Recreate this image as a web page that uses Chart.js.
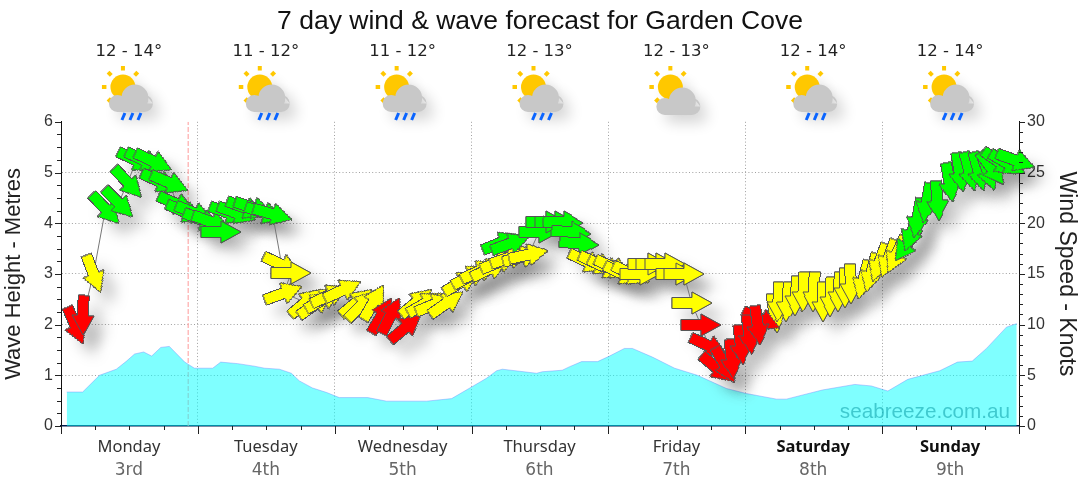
<!DOCTYPE html>
<html>
<head>
<meta charset="utf-8">
<title>7 day wind & wave forecast</title>
<script src="https://cdn.jsdelivr.net/npm/chart.js@4"></script>
<style>
  html, body { margin: 0; padding: 0; background: #fff; }
  canvas { display: block; }
</style>
</head>
<body>
<canvas id="chart" width="1080" height="490"></canvas>
<script>
const dayNames = ["Monday", "Tuesday", "Wednesday", "Thursday", "Friday", "Saturday", "Sunday"];
const dayDates = ["3rd", "4th", "5th", "6th", "7th", "8th", "9th"];
const dayHours = [12, 36, 60, 84, 108, 132, 156];
const tempRanges = ["12 - 14°", "11 - 12°", "11 - 12°", "12 - 13°", "12 - 13°", "12 - 14°", "12 - 14°"];
const rainyDays = [true, true, true, true, false, true, true];
const weekendDays = ["Saturday", "Sunday"];
const nowHour = 22.3;

// wave height, metres on the left axis
const waveHours = [1, 3.8, 6.75, 9.7, 11.5, 12.9, 14.5, 15.9, 17.5, 19, 21.7, 23.4, 26.6, 28, 31, 33.9, 35.7, 38.3, 40.4, 41.8, 44.1, 46.6, 48.8, 53.8, 57.1, 64.1, 68.5, 72, 74.6, 76.4, 77.4, 83.4, 84.4, 87.9, 89.2, 91.3, 94.1, 96.2, 98.8, 100.2, 103.7, 107.6, 111.6, 116.7, 120.2, 125.5, 127.2, 133.5, 139.2, 142.1, 145, 148.5, 154.1, 157.2, 159.8, 162.3, 165.8, 167.6];
const waveMetres = [0.67, 0.67, 1, 1.12, 1.28, 1.42, 1.46, 1.38, 1.55, 1.57, 1.26, 1.14, 1.14, 1.26, 1.23, 1.18, 1.14, 1.12, 1.04, 0.89, 0.75, 0.66, 0.56, 0.56, 0.49, 0.49, 0.54, 0.77, 0.94, 1.09, 1.12, 1.04, 1.07, 1.1, 1.17, 1.27, 1.27, 1.38, 1.53, 1.53, 1.36, 1.14, 1, 0.74, 0.64, 0.53, 0.53, 0.71, 0.82, 0.79, 0.69, 0.92, 1.09, 1.26, 1.28, 1.53, 1.95, 2.02];

// wind arrows, knots on the right axis, bearing the arrow points at
const arrowHours = [2.5, 3.9, 5.7, 7.8, 10.1, 11.7, 13.2, 14.6, 16.2, 17.3, 19, 20.3, 21.8, 23.4, 24.8, 26.4, 28.1, 29.4, 30.8, 32.4, 33.8, 35.7, 37.1, 38.7, 40.4, 39, 42.9, 44.6, 46, 47.1, 49.4, 51.8, 52.7, 54.8, 56.2, 57.8, 60.4, 62.3, 63.9, 65.5, 67.6, 70.2, 71.8, 73.4, 75.2, 76.9, 78.7, 77.2, 78.8, 80.9, 82, 83.8, 85.1, 86.6, 88.1, 89.5, 90.9, 92.3, 94.1, 95.7, 96.9, 98.5, 100, 101.5, 103, 104.4, 106, 107.8, 109.2, 110.6, 112.2, 113.6, 115, 116.4, 125.1, 122.8, 117.6, 119.2, 120.7, 122.2, 125.8, 127.4, 128.9, 130.2, 132, 133.6, 135, 136.4, 137.4, 138.5, 140.7, 142.1, 143.5, 145.1, 146.5, 148.3, 149.2, 150.2, 151.8, 153.7, 155.8, 157.6, 159.3, 160.9, 162.5, 163.2, 164.6, 166, 167.4];
const arrowKnots = [9.9, 10.9, 15, 21.4, 22, 24, 26.2, 26.2, 26.1, 24.1, 24, 21.9, 21.1, 21, 20.3, 20.1, 19.1, 21, 21, 21.5, 21.5, 21, 20.9, 15.9, 15.1, 13.1, 12.2, 12, 12.5, 12.9, 13.4, 12.2, 11.9, 12.2, 10.9, 10.9, 9.7, 12.2, 12.1, 12, 12.1, 14.2, 14.8, 15.3, 15.5, 16.2, 16.6, 18.1, 18, 16.7, 16.9, 19.1, 20.1, 20.1, 20.1, 19.1, 18, 16.2, 16, 15.6, 15.6, 15, 15, 15, 16, 16, 16, 15, 15, 12.1, 10, 7.9, 5.7, 6, 11.1, 10.5, 6.6, 8, 9, 9.9, 12.2, 12.2, 12.8, 13.2, 13.2, 12.2, 12.7, 13.2, 13.6, 14, 14.4, 15.1, 16.1, 16.5, 16.9, 17.9, 19.1, 20.5, 22, 22.2, 24, 25, 25.1, 25.1, 25.1, 25.4, 26, 25.9, 26.2];
const arrowBearings = [157, 181, 159, 137, 135, 137, 115, 115, 115, 115, 113, 113, 113, 112, 112, 110, 90, 110, 110, 110, 108, 108, 106, 115, 90, 70, 50, 55, 60, 65, 65, 50, 45, 30, 30, 27, 50, 50, 60, 68, 55, 60, 62, 65, 65, 68, 72, 68, 70, 75, 78, 90, 90, 90, 92, 95, 95, 115, 115, 115, 115, 115, 115, 90, 90, 90, 90, 90, 90, 90, 90, 115, 130, 151, 172, 115, 174, 173, 172, 172, 183, 184, 183, 183, 183, 181, 182, 183, 180, 178, 195, 195, 200, 200, 205, 215, 200, 190, 190, 175, 170, 170, 165, 165, 160, 143, 125, 120, 110];

const FONT = '"Liberation Sans", Arial, sans-serif';
const DAY_FONT = '"Noto Sans", sans-serif';
const LABEL_FONT = '"DejaVu Sans", sans-serif';

function makeArrow(fill) {
  const c = document.createElement("canvas");
  c.width = 28;
  c.height = 46;
  const g = c.getContext("2d");
  g.translate(14, 23);
  g.beginPath();
  g.moveTo(0, -20);
  g.lineTo(11, 0);
  g.lineTo(5.5, 0);
  g.lineTo(5.5, 20);
  g.lineTo(-5.5, 20);
  g.lineTo(-5.5, 0);
  g.lineTo(-11, 0);
  g.closePath();
  g.fillStyle = fill;
  g.fill();
  g.lineWidth = 1;
  g.strokeStyle = "#555";
  g.stroke();
  return c;
}

const ARROWS = { red: makeArrow("#ff0000"), yellow: makeArrow("#ffff00"), green: makeArrow("#00ff00") };

// wind strength bands decide the arrow colour
function arrowFor(knots) {
  if (knots < 11) return ARROWS.red;
  if (knots < 17) return ARROWS.yellow;
  return ARROWS.green;
}

function drawIcon(g, cx, rainy) {
  const top = rainy ? 0 : 3;
  g.save();
  g.shadowColor = "rgba(0,0,0,0.16)";
  g.shadowBlur = 14;
  g.shadowOffsetX = 8;
  g.shadowOffsetY = 8;
  // sun and rays
  g.fillStyle = "#ffc800";
  g.beginPath();
  g.arc(cx - 6.5, 87, 12.5, 0, Math.PI * 2);
  g.fill();
  g.shadowColor = "transparent";
  for (let a = 0; a < 360; a += 45) {
    if (a === 135 || a === 90) continue;
    g.save();
    g.translate(cx - 6.5, 87);
    g.rotate(((a - 90) * Math.PI) / 180);
    g.fillRect(16.5, -2, 4.5, 4);
    g.restore();
  }
  g.shadowColor = "rgba(0,0,0,0.16)";
  // cloud
  g.fillStyle = "#c8c8c8";
  g.beginPath();
  g.arc(cx + 5.5, 98 + top, 13.5, 0, Math.PI * 2);
  g.arc(cx - 12, 103.5 + top, 8.5, 0, Math.PI * 2);
  g.arc(cx + 15, 103.5 + top, 8.5, 0, Math.PI * 2);
  g.rect(cx - 12, 98 + top, 27, 14);
  g.fill();
  g.restore();
  if (!rainy) return;
  g.strokeStyle = "#0a64ff";
  g.lineWidth = 3;
  for (const dx of [-6, 2, 10]) {
    g.beginPath();
    g.moveTo(cx + dx + 1.5, 113);
    g.lineTo(cx + dx - 1.5, 120);
    g.stroke();
  }
}

// arrow shadows sit on one layer under all the arrows
const shadowLayer = {
  id: "shadowLayer",
  beforeDatasetsDraw(chart) {
    chart.ctx.imageSmoothingEnabled = false;
  },
  afterDatasetsDraw(chart) {
    chart.ctx.imageSmoothingEnabled = true;
  },
  beforeDatasetDraw(chart, args) {
    if (args.meta.label !== "shadow") return;
    const g = chart.ctx;
    g.save();
    g.shadowColor = "rgba(0,0,0,0.2)";
    g.shadowBlur = 14;
    g.shadowOffsetX = 12;
    g.shadowOffsetY = 12;
  },
  afterDatasetDraw(chart, args) {
    if (args.meta.label === "shadow") chart.ctx.restore();
  },
};

const tickMarks = {
  id: "tickMarks",
  afterDraw(chart) {
    const g = chart.ctx;
    const { x, y, y1 } = chart.scales;
    g.save();
    g.lineWidth = 1;
    g.strokeStyle = "#222";
    y.ticks.forEach((t) => {
      const py = Math.round(y.getPixelForValue(t.value)) + 0.5;
      const len = t.value % 1 === 0 ? 6 : 4;
      g.beginPath();
      g.moveTo(y.right, py);
      g.lineTo(y.right - len, py);
      g.stroke();
    });
    y1.ticks.forEach((t) => {
      const py = Math.round(y1.getPixelForValue(t.value)) + 0.5;
      const len = t.value % 5 === 0 ? 6 : 4;
      g.beginPath();
      g.moveTo(y1.left, py);
      g.lineTo(y1.left + len, py);
      g.stroke();
    });
    x.ticks.forEach((t) => {
      const px = Math.round(x.getPixelForValue(t.value)) + 0.5;
      const len = t.value % 24 === 0 ? 8 : 4;
      g.beginPath();
      g.moveTo(px, x.top);
      g.lineTo(px, x.top + len);
      g.stroke();
    });
    g.restore();
  },
};

const forecastText = {
  id: "forecastText",
  afterDraw(chart) {
    const g = chart.ctx;
    const { x } = chart.scales;
    g.save();
    g.textAlign = "center";
    g.textBaseline = "alphabetic";
    dayHours.forEach((h, i) => {
      const px = x.getPixelForValue(h);
      g.fillStyle = "#222";
      g.font = `16.5px ${LABEL_FONT}`;
      g.fillText(tempRanges[i], px - 0.5, 56);
      drawIcon(g, px, rainyDays[i]);
      const weekend = weekendDays.includes(dayNames[i]);
      g.fillStyle = weekend ? "#111" : "#333";
      g.font = `${weekend ? "bold " : ""}16.5px ${DAY_FONT}`;
      g.fillText(dayNames[i], px - 0.5, 452);
      g.fillStyle = "#666";
      g.font = `17px ${LABEL_FONT}`;
      g.fillText(dayDates[i], px - 0.5, 475);
    });
    g.textAlign = "right";
    g.fillStyle = "rgba(0,150,160,0.5)";
    g.font = `20.7px ${FONT}`;
    g.fillText("seabreeze.com.au", 1010, 418);
    g.restore();
  },
};

const toPoints = (xs, ys) => xs.map((v, i) => ({ x: v, y: ys[i] }));
const arrowPoints = toPoints(arrowHours, arrowKnots);

new Chart(document.getElementById("chart"), {
  type: "scatter",
  data: {
    datasets: [
      {
        label: "now",
        data: [{ x: nowHour, y: 0 }, { x: nowHour, y: 6 }],
        yAxisID: "y",
        showLine: true,
        order: 5,
        pointRadius: 0,
        borderColor: "#ff9a9a",
        borderWidth: 1,
        borderDash: [5, 2],
      },
      {
        label: "Wave Height",
        data: toPoints(waveHours, waveMetres),
        yAxisID: "y",
        showLine: true,
        order: 4,
        fill: "origin",
        pointRadius: 0,
        backgroundColor: "rgba(0,255,255,0.5)",
        borderColor: "rgba(110,130,255,0.4)",
        borderWidth: 1,
      },
      {
        label: "shadow",
        data: arrowPoints,
        yAxisID: "y1",
        showLine: false,
        order: 3,
        clip: false,
        pointRadius: 20,
        pointStyle: (c) => arrowFor(arrowKnots[c.dataIndex]),
        rotation: (c) => arrowBearings[c.dataIndex],
      },
      {
        label: "Wind Speed",
        data: arrowPoints,
        yAxisID: "y1",
        showLine: true,
        order: 2,
        clip: false,
        borderColor: "#777",
        borderWidth: 1,
        pointRadius: 20,
        pointStyle: (c) => arrowFor(arrowKnots[c.dataIndex]),
        rotation: (c) => arrowBearings[c.dataIndex],
      },
    ],
  },
  options: {
    responsive: false,
    animation: false,
    devicePixelRatio: 1,
    events: [],
    plugins: {
      legend: { display: false },
      tooltip: { enabled: false },
      title: {
        display: true,
        text: "7 day wind & wave forecast for Garden Cove",
        color: "#111",
        font: { family: FONT, size: 26.5, weight: "normal" },
        padding: { top: 6, bottom: 84 },
      },
    },
    scales: {
      x: {
        type: "linear",
        min: 0,
        max: 168,
        ticks: { stepSize: 6, display: false, autoSkip: false },
        afterFit: (s) => { s.height = 64; },
        grid: {
          drawTicks: false,
          color: (c) => (c.tick.value % 24 === 0 && c.tick.value > 0 && c.tick.value < 168 ? "#a0a0a0" : "transparent"),
        },
        border: { color: "#001a4d", width: 1.5, dash: [1, 2.3] },
      },
      y: {
        position: "left",
        min: 0,
        max: 6,
        afterFit: (s) => { s.width = 61; },
        ticks: {
          stepSize: 0.25,
          autoSkip: false,
          padding: 8,
          color: "#333",
          font: { family: FONT, size: 16 },
          callback: (v) => (v % 1 === 0 ? String(v) : ""),
        },
        title: { display: true, text: "Wave Height - Metres", color: "#222", font: { family: FONT, size: 22 }, padding: { top: 1, bottom: 0 } },
        grid: {
          drawTicks: false,
          color: (c) => (c.tick.value % 1 === 0 && c.tick.value > 0 && c.tick.value < 6 ? "#a0a0a0" : "transparent"),
        },
        border: { color: "#111", width: 1, dash: [1, 2.3] },
      },
      y1: {
        position: "right",
        min: 0,
        max: 30,
        afterFit: (s) => { s.width = 61; },
        ticks: {
          stepSize: 1,
          autoSkip: false,
          padding: 8,
          color: "#333",
          font: { family: FONT, size: 16 },
          callback: (v) => (v % 5 === 0 ? String(v) : ""),
        },
        title: { display: true, text: "Wind Speed - Knots", color: "#222", font: { family: FONT, size: 23 }, padding: 0 },
        grid: { display: false, drawTicks: false },
        border: { color: "#111", width: 1 },
      },
    },
  },
  plugins: [shadowLayer, tickMarks, forecastText],
});
</script>
</body>
</html>
